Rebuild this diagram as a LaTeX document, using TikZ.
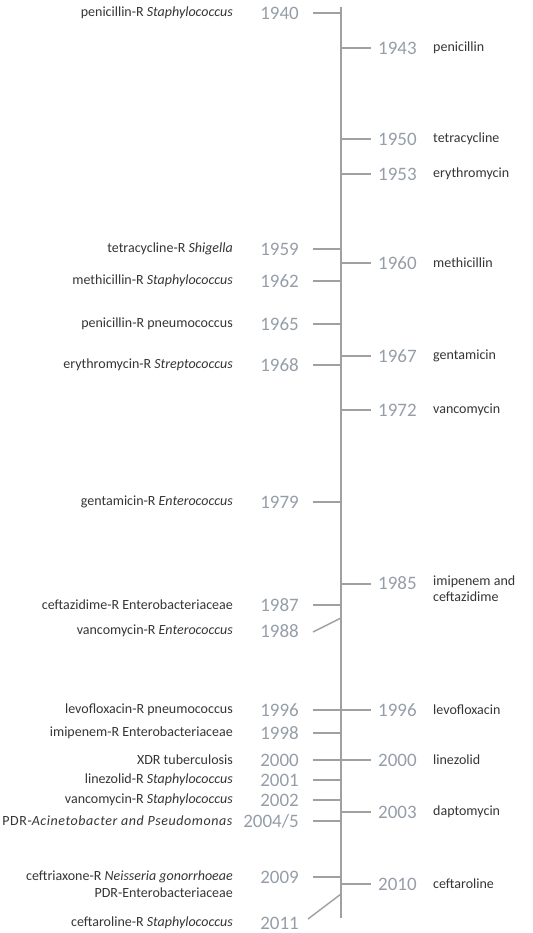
\documentclass[tikz,border=0pt]{standalone}
\usepackage{fontspec}
\setmainfont{Carlito}
\definecolor{axisgray}{HTML}{A0A0A0}
\definecolor{yeargray}{HTML}{959EA8}
\definecolor{labelgray}{HTML}{353535}
\begin{document}
\begin{tikzpicture}[x=1pt,y=-1pt,
  axisline/.style={draw=axisgray,line width=2pt},
  tickline/.style={draw=axisgray,line width=1.4pt},
  yearL/.style={anchor=east,inner sep=0pt,text=yeargray,font=\fontsize{19}{19}\selectfont},
  yearR/.style={anchor=west,inner sep=0pt,text=yeargray,font=\fontsize{19}{19}\selectfont},
  labL/.style={anchor=east,inner sep=0pt,text=labelgray,font=\fontsize{14}{17}\selectfont},
  labR/.style={anchor=west,inner sep=0pt,text=labelgray,font=\fontsize{14}{15.5}\selectfont}]
\useasboundingbox (0,0) rectangle (532,933);
% axis
\coordinate (top) at (341,7);
\coordinate (bot) at (341,918);
\draw[axisline] (top) -- (bot);

% ---- left side (resistance) ----
\newcommand{\lefttick}[3]{%
  \node[yearL] (yl#1) at (299,#2) {#1};
  \node[labL] (ll#1) at (233,#2) {#3};
  \coordinate (al#1) at (341,#2);
  \coordinate (tl#1) at (313,#2);
  \draw[tickline] (tl#1) -- (al#1);}
\lefttick{1940}{13}{penicillin-R \textit{Staphylococcus}}
\lefttick{1959}{249}{tetracycline-R \textit{Shigella}}
\lefttick{1962}{281}{methicillin-R \textit{Staphylococcus}}
\lefttick{1965}{324}{penicillin-R pneumococcus}
\lefttick{1968}{365}{erythromycin-R \textit{Streptococcus}}
\lefttick{1979}{502}{gentamicin-R \textit{Enterococcus}}
\lefttick{1987}{605}{ceftazidime-R Enterobacteriaceae}
\lefttick{1996}{710}{levofloxacin-R pneumococcus}
\lefttick{1998}{733}{imipenem-R Enterobacteriaceae}
\lefttick{2000}{760}{XDR tuberculosis}
\lefttick{2001}{780}{linezolid-R \textit{Staphylococcus}}
\lefttick{2002}{800}{vancomycin-R \textit{Staphylococcus}}
\lefttick{2004/5}{821}{\addfontfeatures{LetterSpace=4.0}PDR-\textit{Acinetobacter and Pseudomonas}}
\lefttick{2009}{877}{}
% 2009 two-line label
\node[labL,anchor=north east,align=right] (ll2009b) at (233,871)
  {ceftriaxone-R \textit{Neisseria gonorrhoeae}\\PDR-Enterobacteriaceae};
% 1988 slanted
\node[yearL] (yl1988) at (299,631) {1988};
\node[labL] (ll1988) at (233,631) {vancomycin-R \textit{Enterococcus}};
\coordinate (tl1988) at (313,632);
\coordinate (al1988) at (341,618);
\draw[tickline] (tl1988) -- (al1988);
% 2011 slanted
\node[yearL] (yl2011) at (299,923) {2011};
\node[labL] (ll2011) at (233,923) {ceftaroline-R \textit{Staphylococcus}};
\coordinate (tl2011) at (308,919);
\coordinate (al2011) at (341,894);
\draw[tickline] (tl2011) -- (al2011);

% ---- right side (antibiotics) ----
\newcommand{\righttick}[3]{%
  \node[yearR] (yr#1) at (378,#2) {#1};
  \node[labR] (lr#1) at (433,#2) {#3};
  \coordinate (ar#1) at (341,#2);
  \coordinate (tr#1) at (371,#2);
  \draw[tickline] (ar#1) -- (tr#1);}
\righttick{1943}{48}{penicillin}
\righttick{1950}{139}{tetracycline}
\righttick{1953}{174}{erythromycin}
\righttick{1960}{263}{methicillin}
\righttick{1967}{356}{gentamicin}
\righttick{1972}{410}{vancomycin}
\righttick{1996}{710}{levofloxacin}
\righttick{2000}{760}{linezolid}
\righttick{2003}{812}{daptomycin}
\righttick{2010}{884}{ceftaroline}
% 1985 two-line
\node[yearR] (yr1985) at (378,583) {1985};
\node[labR,anchor=north west,align=left] (lr1985) at (433,576) {imipenem and\\ceftazidime};
\coordinate (ar1985) at (341,584);
\coordinate (tr1985) at (371,584);
\draw[tickline] (ar1985) -- (tr1985);
\end{tikzpicture}
\end{document}
